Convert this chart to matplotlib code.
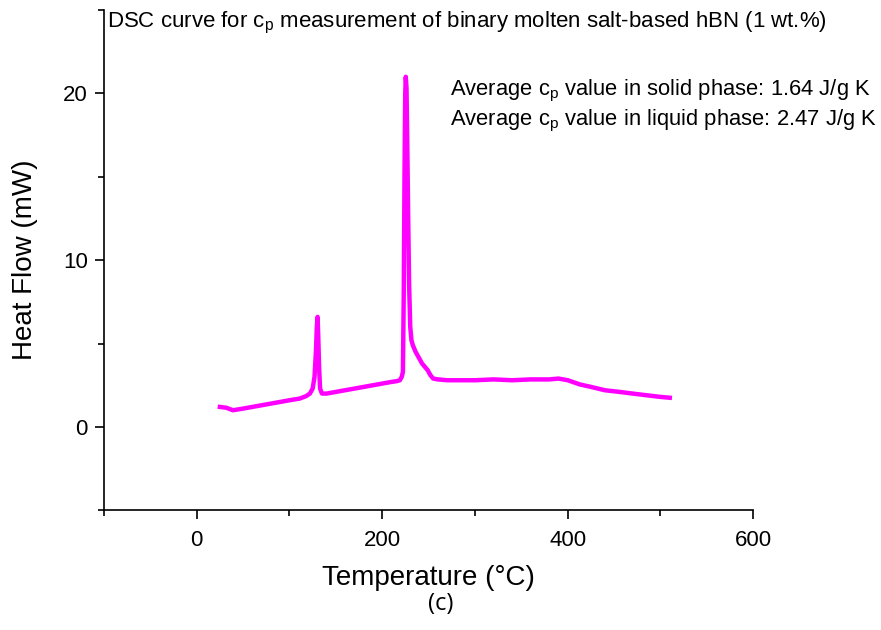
import numpy as np
import matplotlib.pyplot as plt

plt.rcParams['font.family'] = ['Liberation Sans', 'DejaVu Sans']

# DSC curve: temperature (°C) and heat flow (mW)
temperature = [25, 32, 39, 50, 60, 70, 80, 90, 100, 111, 118, 122, 125, 127,
               128.5, 129.5, 130.3, 131, 132, 133, 135, 140, 150, 160, 170, 180,
               190, 200, 210, 216, 219, 221, 222.3, 223.2, 224, 224.8, 225.4,
               226.2, 227, 228, 229, 230.2, 231.5, 233, 236, 240, 243, 246, 249,
               252, 255, 260, 270, 280, 290, 300, 320, 340, 360, 380, 390, 400,
               413, 425, 440, 456, 470, 485, 500, 510]
heat_flow = [1.2, 1.15, 1.0, 1.1, 1.2, 1.3, 1.4, 1.5, 1.6, 1.7, 1.85, 2.0, 2.3,
             3.0, 4.5, 6.0, 6.6, 5.5, 3.5, 2.3, 2.0, 2.0, 2.1, 2.2, 2.3, 2.4,
             2.5, 2.6, 2.7, 2.75, 2.8, 3.0, 3.3, 8.0, 15.0, 20.0, 21.0, 20.3,
             17.0, 12.5, 8.5, 6.0, 5.2, 4.9, 4.5, 4.1, 3.8, 3.6, 3.4, 3.1, 2.9,
             2.85, 2.8, 2.8, 2.8, 2.8, 2.85, 2.8, 2.85, 2.85, 2.9, 2.8, 2.55,
             2.4, 2.2, 2.1, 2.0, 1.9, 1.8, 1.75]

x_major = [0, 200, 400, 600]
y_major = [0, 10, 20]

title_text = r'DSC curve for c$_\mathregular{p}$ measurement of binary molten salt-based hBN (1 wt.%)'
note_solid = r'Average c$_\mathregular{p}$ value in solid phase: 1.64 J/g K'
note_liquid = r'Average c$_\mathregular{p}$ value in liquid phase: 2.47 J/g K'

fig = plt.figure(figsize=(8.81, 6.3), dpi=100)
ax = fig.add_axes([0.118, 0.19, 0.737, 0.794])

ax.plot(temperature, heat_flow, color='#FF00FF', lw=3.2)

ax.set_xlim(-100, 600)
ax.set_ylim(-5, 25)
ax.set_xticks(x_major)
ax.set_yticks(y_major)
ax.set_xticks(np.arange(-100, 601, 100), minor=True)
ax.set_yticks(np.arange(-5, 26, 5), minor=True)
ax.tick_params(axis='both', which='major', direction='out', length=6.5, width=1.2,
               labelsize=16)
ax.tick_params(axis='x', which='major', pad=8)
ax.tick_params(axis='y', which='major', pad=5)
ax.tick_params(axis='both', which='minor', direction='out', length=4, width=1.2)

for side in ('top', 'right'):
    ax.spines[side].set_visible(False)
for side in ('left', 'bottom'):
    ax.spines[side].set_linewidth(1.2)

ax.set_xlabel('Temperature (°C)', fontsize=20, labelpad=10)
ax.set_ylabel('Heat Flow (mW)', fontsize=20, labelpad=18)

ax.text(0.005, 0.966, title_text, transform=ax.transAxes, fontsize=16, va='baseline', ha='left')
ax.text(0.533, 0.83, note_solid, transform=ax.transAxes, fontsize=15.8, va='baseline', ha='left')
ax.text(0.533, 0.77, note_liquid, transform=ax.transAxes, fontsize=15.8, va='baseline', ha='left')

fig.text(0.5, 0.032, '(c)', fontsize=17, ha='center', family=['Open Sans', 'DejaVu Sans'])

fig.savefig('out.png', dpi=100)
